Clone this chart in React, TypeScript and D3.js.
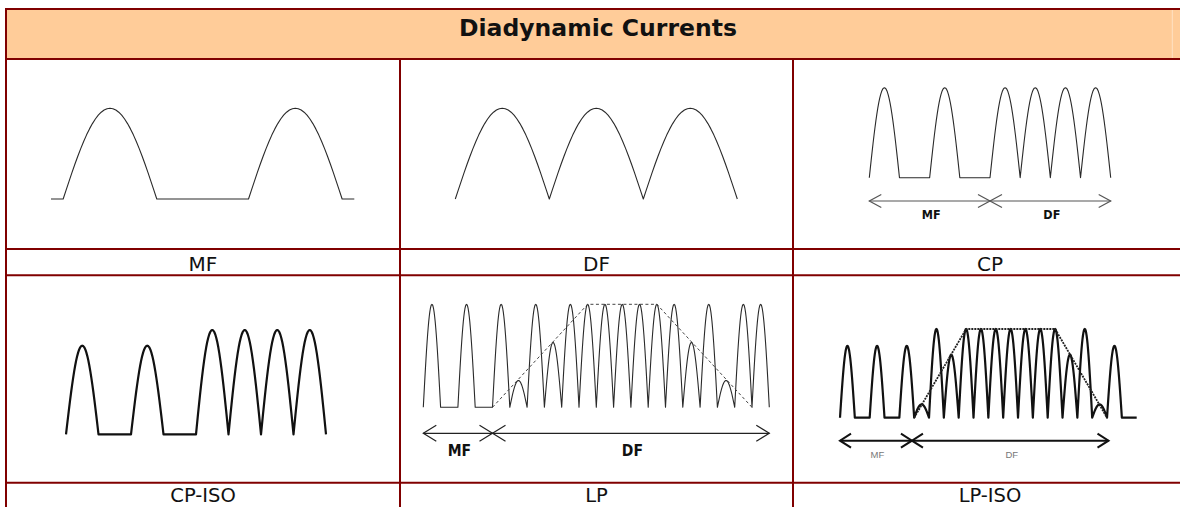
import { useEffect, useRef } from "react";
import * as d3 from "d3";

type Seg = [number, number]; // [amplitude, duration in half-wave units]
type Phase = [string, number, number]; // [label, from, to]

const TITLE = "Diadynamic Currents";
const LABELS = ["MF", "DF", "CP", "CP-ISO", "LP", "LP-ISO"];

// waveforms, one entry per half wave (0 = pause)
const MF_WAVE: Seg[] = [[0, 0.13], [1, 1], [0, 0.98], [1, 1], [0, 0.13]];
const DF_WAVE: Seg[] = [[1, 1], [1, 1], [1, 1]];
const CP_AMPS = [1, 0, 1, 0, 1, 1, 1, 1];
const CP_ISO_AMPS = [0.85, 0, 0.85, 0, 1, 1, 1, 1];
const LP_AMPS = [1, 0, 1, 0, 1, 0.26, 1, 0.63, 1, 1, 1, 1, 1, 1, 1, 0.63, 1, 0.26, 1, 1];
const LP_ISO_AMPS = [0.81, 0, 0.81, 0, 0.81, 0.15, 1, 0.71, 1, 1, 1, 1, 1, 1, 1, 0.71, 1, 0.15, 0.81, 0];

// dashed envelopes [position, amplitude]
const LP_ENVELOPE: [number, number][] = [[4, 0], [9.5, 1], [13.5, 1], [19, 0]];
const LP_ISO_ENVELOPE: [number, number][] = [[5, 0], [8.5, 1], [14.5, 1], [18, 0]];

// phase arrows under the waves
const CP_PHASES: Phase[] = [["MF", 0, 4], ["DF", 4, 8]];
const LP_PHASES: Phase[] = [["MF", 0, 4], ["DF", 4, 20]];
const LP_ISO_PHASES: Phase[] = [["MF", 0, 4.85], ["DF", 4.85, 18.1]];

const toSegs = (amps: number[]): Seg[] => amps.map(a => [a, 1]);

const W = 1180;
const H = 507;
const BORDER = "#800000";

interface Panel {
    wave: Seg[];
    xr: [number, number];
    yr: [number, number];
    stroke: string;
    sw: number;
    envelope?: [number, number][];
    envStyle?: { stroke: string; sw: number; dash: string };
    phases?: Phase[];
    arrow?: { y: number; len: number; half: number; stroke: string; sw: number };
    text?: { y: number; size: number; family: string; weight: string; fill: string };
}

const panels: Panel[] = [
    { wave: MF_WAVE, xr: [51, 354.3], yr: [199, 108.3], stroke: "#2a2a2a", sw: 1.1 },
    { wave: DF_WAVE, xr: [455.3, 737.3], yr: [199, 108.3], stroke: "#2a2a2a", sw: 1.1 },
    {
        wave: toSegs(CP_AMPS), xr: [869.3, 1110.7], yr: [177.7, 87.7], stroke: "#2a2a2a", sw: 1.1,
        phases: CP_PHASES,
        arrow: { y: 201, len: 12, half: 6.5, stroke: "#555", sw: 1.2 },
        text: { y: 219.3, size: 12.5, family: "'DejaVu Sans Condensed', 'DejaVu Sans'", weight: "bold", fill: "#111" },
    },
    { wave: toSegs(CP_ISO_AMPS), xr: [66, 326], yr: [434.3, 330], stroke: "#111", sw: 2.2 },
    {
        wave: toSegs(LP_AMPS), xr: [423.3, 769.3], yr: [407.3, 304.3], stroke: "#2a2a2a", sw: 1.1,
        envelope: LP_ENVELOPE, envStyle: { stroke: "#444", sw: 1, dash: "3,2.5" },
        phases: LP_PHASES,
        arrow: { y: 433.3, len: 13, half: 8, stroke: "#222", sw: 1.2 },
        text: { y: 455.7, size: 15.5, family: "'DejaVu Sans Condensed', 'DejaVu Sans'", weight: "bold", fill: "#111" },
    },
    {
        wave: toSegs(LP_ISO_AMPS), xr: [840, 1136.7], yr: [417.7, 329], stroke: "#111", sw: 2.2,
        envelope: LP_ISO_ENVELOPE, envStyle: { stroke: "#222", sw: 1.8, dash: "2,1" },
        phases: LP_ISO_PHASES,
        arrow: { y: 440.7, len: 11, half: 7, stroke: "#111", sw: 2 },
        text: { y: 458.3, size: 9.5, family: "'Liberation Sans', Arial", weight: "normal", fill: "#777" },
    },
];

const App = () => {
    const svgRef = useRef<SVGSVGElement | null>(null);

    useEffect(() => {
        if (!svgRef.current) return;
        const svg = d3.select(svgRef.current);
        svg.selectAll("*").remove();

        // header
        svg.append("rect")
            .attr("x", 6).attr("y", 9).attr("width", W - 6).attr("height", 50)
            .attr("fill", "#FFCC99");
        svg.append("line")
            .attr("x1", 1172.3).attr("x2", 1172.3).attr("y1", 10).attr("y2", 58)
            .attr("stroke", "#FFE2C4").attr("stroke-width", 1);
        svg.append("text")
            .attr("x", 598).attr("y", 36)
            .attr("text-anchor", "middle")
            .attr("font-family", "'DejaVu Sans', Verdana, sans-serif")
            .attr("font-weight", "bold")
            .attr("font-size", 23.5)
            .attr("fill", "#111")
            .text(TITLE);

        // grid lines
        const hLines = [9, 59, 249, 275.3, 482.7];
        const vLines: [number, number][] = [[6, 8], [400, 59], [793, 59]];
        const grid = svg.append("g").attr("stroke", BORDER).attr("stroke-width", 2);
        hLines.forEach(y => grid.append("line").attr("x1", 5).attr("x2", W).attr("y1", y).attr("y2", y));
        vLines.forEach(([x, y0]) => grid.append("line").attr("x1", x).attr("x2", x).attr("y1", y0).attr("y2", H));

        // captions
        const colCenters = [203, 596.5, 990];
        const rowBase = [271, 502];
        LABELS.forEach((lab, i) => {
            const row = Math.floor(i / 3);
            svg.append("text")
                .attr("x", colCenters[i % 3]).attr("y", rowBase[row])
                .attr("text-anchor", "middle")
                .attr("font-family", "'DejaVu Sans', Verdana, sans-serif")
                .attr("font-size", row === 0 ? 20 : 19.5)
                .attr("fill", "#111")
                .text(lab);
        });

        const line = d3.line<[number, number]>().x(d => d[0]).y(d => d[1]);

        panels.forEach(p => {
            const total = d3.sum(p.wave, d => d[1]);
            const x = d3.scaleLinear().domain([0, total]).range(p.xr);
            const y = d3.scaleLinear().domain([0, 1]).range(p.yr);

            const pts: [number, number][] = [];
            let t0 = 0;
            p.wave.forEach(([amp, dur]) => {
                if (amp === 0) {
                    pts.push([x(t0), y(0)], [x(t0 + dur), y(0)]);
                } else {
                    const n = 32;
                    for (let k = 0; k <= n; k++) {
                        pts.push([x(t0 + (dur * k) / n), y(amp * Math.sin((Math.PI * k) / n))]);
                    }
                }
                t0 += dur;
            });

            svg.append("path")
                .attr("d", line(pts))
                .attr("fill", "none")
                .attr("stroke", p.stroke)
                .attr("stroke-width", p.sw)
                .attr("stroke-linejoin", "round");

            if (p.envelope && p.envStyle) {
                svg.append("path")
                    .attr("d", line(p.envelope.map(([t, a]) => [x(t), y(a)] as [number, number])))
                    .attr("fill", "none")
                    .attr("stroke", p.envStyle.stroke)
                    .attr("stroke-width", p.envStyle.sw)
                    .attr("stroke-dasharray", p.envStyle.dash);
            }

            if (p.phases && p.arrow && p.text) {
                const a = p.arrow;
                const tx = p.text;
                p.phases.forEach(([lab, from, to]) => {
                    const xa = x(from);
                    const xb = x(to);
                    const g = svg.append("g")
                        .attr("fill", "none")
                        .attr("stroke", a.stroke)
                        .attr("stroke-width", a.sw);
                    g.append("line").attr("x1", xa).attr("x2", xb).attr("y1", a.y).attr("y2", a.y);
                    g.append("path").attr("d", line([[xa + a.len, a.y - a.half], [xa, a.y], [xa + a.len, a.y + a.half]]));
                    g.append("path").attr("d", line([[xb - a.len, a.y - a.half], [xb, a.y], [xb - a.len, a.y + a.half]]));
                    svg.append("text")
                        .attr("x", (xa + xb) / 2 + 1.5).attr("y", tx.y)
                        .attr("text-anchor", "middle")
                        .attr("font-family", tx.family)
                        .attr("font-weight", tx.weight)
                        .attr("font-size", tx.size)
                        .attr("fill", tx.fill)
                        .text(lab);
                });
            }
        });
    }, []);

    return (
        <svg
            ref={svgRef}
            width={W}
            height={H}
            style={{ position: "absolute", left: 0, top: 0, background: "#fff" }}
        />
    );
};

export default App;
